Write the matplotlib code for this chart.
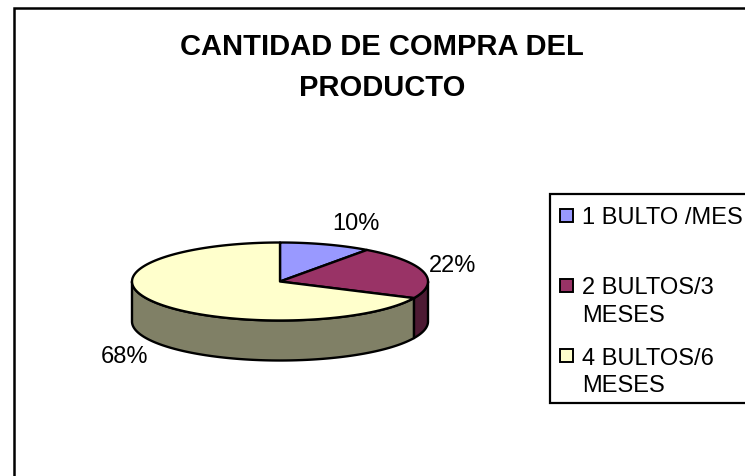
import numpy as np
import matplotlib.pyplot as plt
from matplotlib.patches import Polygon, Rectangle

plt.rcParams['font.family'] = ['Liberation Sans', 'DejaVu Sans']

title = "CANTIDAD DE COMPRA DEL\nPRODUCTO"
labels = ["1 BULTO /MES", "2 BULTOS/3\nMESES", "4 BULTOS/6\nMESES"]
values = [10, 22, 68]
top_colors = ["#9999FF", "#993366", "#FFFFCC"]
side_colors = ["#4D4D80", "#4D1A33", "#808066"]

W, H = 745, 476
cx, cy = 280, 281.5
rx, ry = 148, 39
depth = 40


def rim(a, b, n=120):
    t = np.radians(np.linspace(a, b, n))
    return cx + rx * np.sin(t), cy - ry * np.cos(t)


fig = plt.figure(figsize=(W / 100, H / 100), dpi=100)
ax = fig.add_axes([0, 0, 1, 1])
ax.set_xlim(0, W)
ax.set_ylim(H, 0)
ax.axis('off')

# outer frame runs off the right and bottom edges
ax.add_patch(Rectangle((13.5, 7.5), 800, 600, fc='white', ec='black', lw=1.8))

angles = np.cumsum([0] + values) * 3.6

# sides first, only the front half can be seen
for i in range(len(values)):
    a = max(angles[i], 90)
    b = min(angles[i + 1], 270)
    if a >= b:
        continue
    x, y = rim(a, b)
    xs = np.concatenate([x, x[::-1]])
    ys = np.concatenate([y, y[::-1] + depth])
    ax.add_patch(Polygon(np.column_stack([xs, ys]), fc=side_colors[i], ec='black', lw=1.7, joinstyle='round'))

for i in range(len(values)):
    x, y = rim(angles[i], angles[i + 1])
    xs = np.concatenate([[cx], x])
    ys = np.concatenate([[cy], y])
    ax.add_patch(Polygon(np.column_stack([xs, ys]), fc=top_colors[i], ec='black', lw=1.7, joinstyle='round'))

ax.text(356, 223.5, "%d%%" % values[0], fontsize=17, ha='center', va='center')
ax.text(453, 266, "%d%%" % values[1], fontsize=17, ha='center', va='center')
ax.text(124, 357, "%d%%" % values[2], fontsize=17, ha='center', va='center')

ax.text(382, 67.5, title, fontsize=21, fontweight='bold', ha='center', va='center', linespacing=1.55)

# legend drawn by hand, the box is cut by the right edge
ax.add_patch(Rectangle((549.5, 193.5), 300, 209.5, fc='white', ec='black', lw=1.6))
key_y = [215, 285, 355]
text_y = [217.5, 302, 372.5]
for i in range(len(labels)):
    ax.add_patch(Rectangle((559.5, key_y[i] - 6.5), 13, 13, fc=top_colors[i], ec='black', lw=1.4))
    ax.text(582, text_y[i], labels[i], fontsize=17, ha='left', va='center', linespacing=1.3)

fig.savefig("out.png", dpi=100)
